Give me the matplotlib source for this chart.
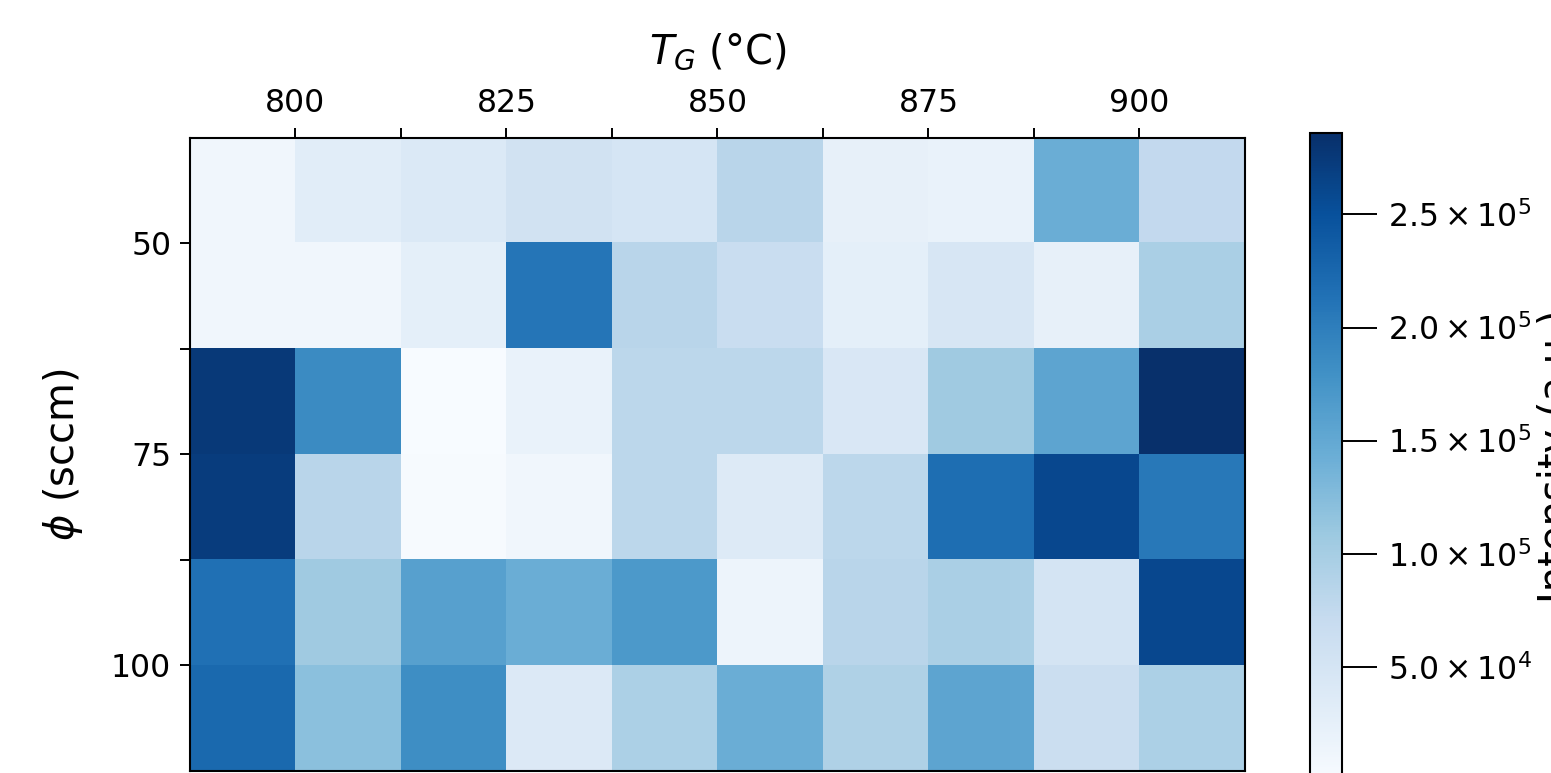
import numpy as np
import matplotlib
matplotlib.use("Agg")
import matplotlib.pyplot as plt
from matplotlib.ticker import FuncFormatter

# growth temperature (deg C) and flow (sccm) at the cell centres
T_G = [793.75, 806.25, 818.75, 831.25, 843.75, 856.25, 868.75, 881.25, 893.75, 906.25]
PHI = [43.75, 56.25, 68.75, 81.25, 93.75, 106.25]

# intensity (a.u.), one list per flow row
row_4375 = [0.9e4, 3.1e4, 4.0e4, 5.4e4, 4.9e4, 8.3e4, 2.3e4, 2.0e4, 1.43e5, 7.4e4]
row_5625 = [1.0e4, 0.9e4, 2.6e4, 2.10e5, 8.3e4, 6.6e4, 2.6e4, 4.6e4, 2.3e4, 9.7e4]
row_6875 = [2.75e5, 1.86e5, 0.0, 2.0e4, 8.0e4, 8.0e4, 4.3e4, 1.06e5, 1.55e5, 2.86e5]
row_8125 = [2.72e5, 8.3e4, 1.5e3, 1.0e4, 8.0e4, 3.7e4, 8.0e4, 2.17e5, 2.60e5, 2.06e5]
row_9375 = [2.15e5, 1.06e5, 1.60e5, 1.43e5, 1.69e5, 1.4e4, 8.3e4, 9.7e4, 5.1e4, 2.60e5]
row_10625 = [2.23e5, 1.20e5, 1.83e5, 3.8e4, 9.4e4, 1.44e5, 9.2e4, 1.55e5, 6.3e4, 9.4e4]

CB_TICKS = [5.0e4, 1.0e5, 1.5e5, 2.0e5, 2.5e5]


def sci(v, pos):
    exp = int(np.floor(np.log10(v)))
    return r"$%.1f \times 10^{%d}$" % (v / 10 ** exp, exp)


def main():
    grid = np.array([row_4375, row_5625, row_6875, row_8125, row_9375, row_10625])
    dx = T_G[1] - T_G[0]
    dy = PHI[1] - PHI[0]
    extent = [T_G[0] - dx / 2, T_G[-1] + dx / 2, PHI[-1] + dy / 2, PHI[0] - dy / 2]

    fig = plt.figure(figsize=(15.51, 7.73), dpi=100)
    ax = fig.add_axes([0.1225, 0.0026, 0.6802, 0.8189])
    cax = fig.add_axes([0.8446, -0.009, 0.0206, 0.837])

    im = ax.imshow(grid, cmap="Blues", extent=extent, aspect="auto",
                   interpolation="nearest", vmin=0, vmax=2.86e5)

    ax.xaxis.tick_top()
    ax.xaxis.set_label_position("top")
    ax.set_xticks(np.arange(800, 901, 25))
    ax.set_xticks(np.arange(812.5, 900, 25), minor=True)
    ax.set_yticks([50, 75, 100])
    ax.set_yticks([62.5, 87.5], minor=True)
    ax.tick_params(which="both", direction="out", length=7, width=1.4,
                   labelsize=22.7, pad=6.5)
    ax.set_xlabel(r"$T_G$ (°C)", fontsize=28.8, labelpad=18)
    ax.set_ylabel(r"$\phi$ (sccm)", fontsize=28.8, labelpad=19)
    for s in ax.spines.values():
        s.set_linewidth(1.5)

    cb = fig.colorbar(im, cax=cax, ticks=CB_TICKS, format=FuncFormatter(sci))
    cb.outline.set_linewidth(1.5)
    cax.tick_params(length=25, width=1.4, labelsize=22.7, pad=8)
    cb.set_label("Intensity (a.u.)", fontsize=28.8, labelpad=4)

    fig.savefig("out.png", dpi=100)


if __name__ == "__main__":
    main()
